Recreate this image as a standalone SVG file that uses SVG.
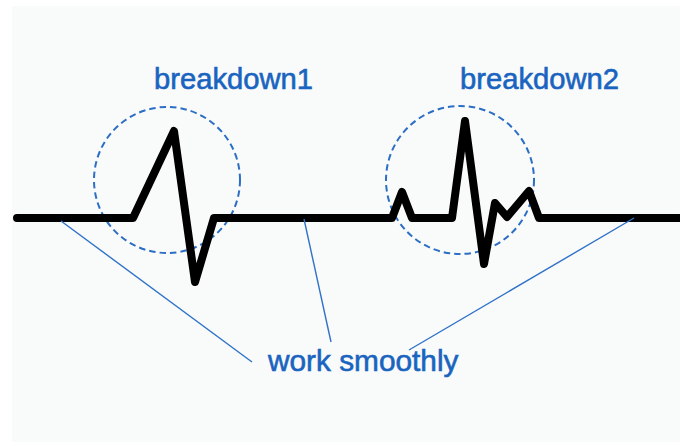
<svg xmlns="http://www.w3.org/2000/svg" width="680" height="448" viewBox="0 0 680 448">
  <style>
    .panel { fill: #f9fbfb; }
    .signal { fill: none; stroke: #000; stroke-width: 8; stroke-linejoin: round; stroke-linecap: round; }
    .zone { fill: none; stroke: #2b6ec4; stroke-width: 2; stroke-dasharray: 6.5 4; }
    .leader { fill: none; stroke: #2f72c8; stroke-width: 1.4; }
    .label { font-family: "Liberation Sans", Arial, sans-serif; fill: #1a64c0; stroke: #1a64c0; stroke-width: 0.6; }
  </style>

  <!-- background panel -->
  <rect class="panel" x="12" y="6" width="668" height="436"/>

  <!-- highlighted zones and their labels -->
  <g id="breakdown1">
    <circle class="zone" cx="167" cy="180" r="73"/>
    <text class="label" x="154" y="89" font-size="29.2">breakdown1</text>
  </g>
  <g id="breakdown2">
    <circle class="zone" cx="460" cy="180" r="74"/>
    <text class="label" x="460" y="89" font-size="29.2">breakdown2</text>
  </g>

  <!-- the signal trace -->
  <g id="signal">
    <polyline class="signal" points="17,218 133,218 174,131 195,282 214,218 392,218 402,192 412,218 452,218 465,121 484,264 495,203 507,217 529,191 539,218 690,218"/>
  </g>

  <!-- leader lines to the caption -->
  <g id="connectors">
    <line class="leader" x1="61" y1="221" x2="252" y2="362"/>
    <line class="leader" x1="304" y1="219" x2="331" y2="342"/>
    <line class="leader" x1="634" y1="218" x2="409" y2="350"/>
  </g>

  <g id="work-smoothly">
    <text class="label" x="268" y="371" font-size="29.8">work smoothly</text>
  </g>
</svg>
